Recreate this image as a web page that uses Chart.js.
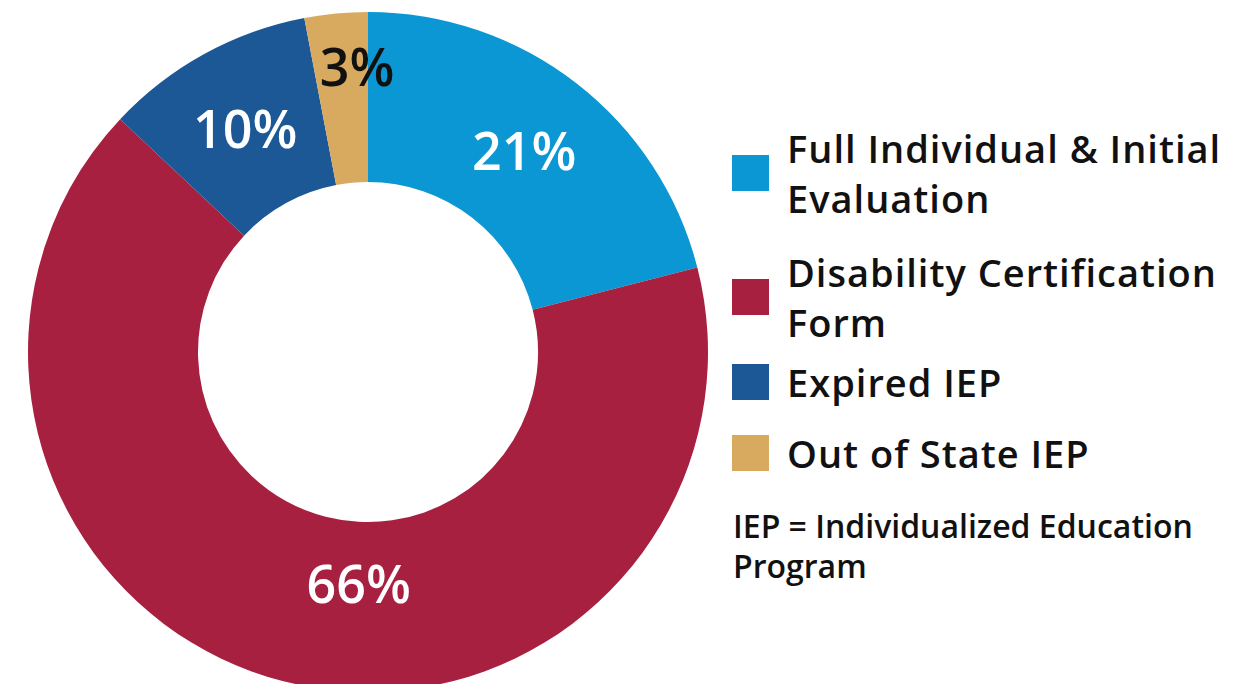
<!DOCTYPE html>
<html>
<head>
<meta charset="utf-8">
<script src="https://cdn.jsdelivr.net/npm/chart.js@4/dist/chart.umd.min.js"></script>
<style>
  html, body { margin: 0; padding: 0; background: #fff; overflow: hidden; }
  body { width: 1254px; height: 684px; position: relative; font-family: "Open Sans", sans-serif; }
  #wrap { position: absolute; left: 28px; top: 12px; width: 680px; height: 680px; }
  #legend { position: absolute; left: 732px; top: 123px; color: #111; }
  .item { display: flex; align-items: center; }
  .item .box { width: 37px; height: 36px; flex: none; margin-right: 18px; }
  .item .txt { font-size: 38px; font-weight: 600; line-height: 50px; letter-spacing: 1px; }
  .item:nth-child(2) { margin-top: 24px; }
  .item:nth-child(3) { margin-top: 10px; }
  .item:nth-child(4) { margin-top: 21px; }
  #note { margin-top: 28px; font-size: 32px; font-weight: 600; line-height: 40px; }
</style>
</head>
<body>
<div id="wrap"><canvas id="chart"></canvas></div>
<div id="legend"></div>

<script>
const CATEGORIES = [
  ['Full Individual & Initial', 'Evaluation'],
  ['Disability Certification', 'Form'],
  ['Expired IEP'],
  ['Out of State IEP']
];
const SHARES = [21, 66, 10, 3];
const COLORS = ['#0a97d3', '#a7203f', '#1c5796', '#d8aa60'];
const LABEL_COLORS = ['#ffffff', '#ffffff', '#ffffff', '#111111'];
const NOTE_LINES = ['IEP = Individualized Education', 'Program'];

// percentage text inside each slice
const sliceLabels = {
  id: 'sliceLabels',
  afterDatasetsDraw(chart, args, opts) {
    const ctx = chart.ctx;
    const arcs = chart.getDatasetMeta(0).data;
    ctx.save();
    ctx.font = '600 52px "Open Sans", sans-serif';
    ctx.textAlign = 'center';
    ctx.textBaseline = 'alphabetic';
    arcs.forEach((arc, i) => {
      let p = arc.getCenterPoint();
      const place = opts.placement[i];
      if (place) {
        const a = (place.deg - 90) * Math.PI / 180;
        p = { x: arc.x + Math.cos(a) * place.r, y: arc.y + Math.sin(a) * place.r };
      }
      const text = SHARES[i] + '%';
      const m = ctx.measureText(text);
      ctx.fillStyle = LABEL_COLORS[i];
      ctx.fillText(text, p.x, p.y + m.actualBoundingBoxAscent / 2);
    });
    ctx.restore();
  }
};

new Chart(document.getElementById('chart'), {
  type: 'doughnut',
  data: {
    labels: CATEGORIES.map(c => c.join(' ')),
    datasets: [{
      data: SHARES,
      backgroundColor: COLORS,
      borderWidth: 0,
      hoverOffset: 0
    }]
  },
  options: {
    responsive: true,
    maintainAspectRatio: false,
    animation: false,
    cutout: '50%',
    layout: { padding: 0 },
    plugins: {
      legend: { display: false },
      tooltip: { enabled: false },
      sliceLabels: {
        placement: { 1: { deg: 182.3, r: 232 }, 3: { deg: 357.8, r: 286 } }
      }
    }
  },
  plugins: [sliceLabels]
});

// html legend
const legend = document.getElementById('legend');
CATEGORIES.forEach((lines, i) => {
  const item = document.createElement('div');
  item.className = 'item';
  const box = document.createElement('div');
  box.className = 'box';
  box.style.background = COLORS[i];
  const txt = document.createElement('div');
  txt.className = 'txt';
  txt.innerHTML = lines.map(l => l.replace('&', '&amp;')).join('<br>');
  item.appendChild(box);
  item.appendChild(txt);
  legend.appendChild(item);
});
const note = document.createElement('div');
note.id = 'note';
note.style.marginLeft = '1px';
note.innerHTML = NOTE_LINES.join('<br>');
legend.appendChild(note);
</script>
</body>
</html>
